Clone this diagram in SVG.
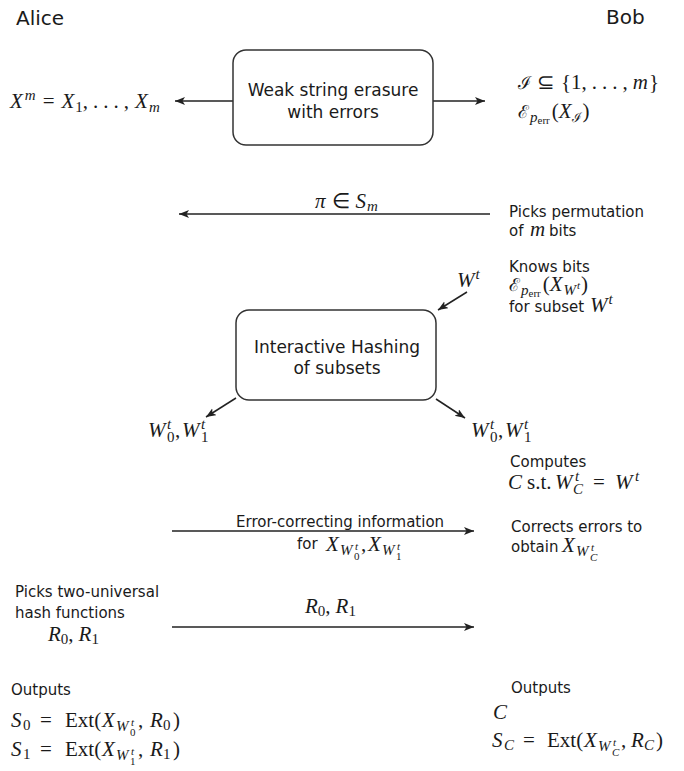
<svg xmlns="http://www.w3.org/2000/svg" width="684" height="771" viewBox="0 0 684 771">
<style>
.t{font-family:"DejaVu Sans",sans-serif;font-size:15px;fill:#1a1a1a}
.big{font-family:"DejaVu Sans",sans-serif;font-size:20px;fill:#1a1a1a}
.bt{font-family:"DejaVu Sans",sans-serif;font-size:17px;fill:#1a1a1a;text-anchor:middle}
.m{font-family:"Liberation Serif",serif;font-size:21px;fill:#1a1a1a}
.i{font-style:italic}
.s{font-size:15px}
.ss{font-size:11px}
.sc{font-family:"DejaVu Serif","Liberation Serif",serif;font-style:normal;font-size:18px}
.scs{font-family:"DejaVu Serif","Liberation Serif",serif;font-style:normal;font-size:13px}
.box{fill:#fff;stroke:#333;stroke-width:1.5}
.ln{stroke:#222;stroke-width:1.5;fill:none;marker-end:url(#ah)}
</style>
<defs>
<marker id="ah" markerUnits="userSpaceOnUse" markerWidth="11" markerHeight="9" refX="10" refY="4" orient="auto">
<path d="M0,0 L10,4 L0,8 L2.5,4 z" fill="#222"/>
</marker>
</defs>
<rect width="684" height="771" fill="#fff"/>

<text class="big" x="16" y="25">Alice</text>
<text class="big" x="606" y="24">Bob</text>

<g id="connectors">
<line class="ln" x1="233" y1="101" x2="175" y2="101"/>
<line class="ln" x1="433" y1="101" x2="485" y2="101"/>
<line class="ln" x1="490" y1="214" x2="179" y2="214"/>
<line class="ln" x1="467" y1="292" x2="438" y2="310"/>
<line class="ln" x1="236" y1="398" x2="206" y2="417"/>
<line class="ln" x1="436" y1="399" x2="465" y2="418"/>
<line class="ln" x1="172" y1="531" x2="474" y2="531"/>
<line class="ln" x1="172" y1="627" x2="474" y2="627"/>
</g>

<g id="wse">
<rect class="box" x="233" y="50" width="200" height="95" rx="13"/>
<text class="bt" x="333" y="96">Weak string erasure</text>
<text class="bt" x="333" y="118">with errors</text>
</g>

<g id="ih">
<rect class="box" x="236" y="310" width="200" height="90" rx="13"/>
<text class="bt" x="337" y="353">Interactive Hashing</text>
<text class="bt" x="337" y="374">of subsets</text>
</g>

<g id="alice-xm">
<text class="m" x="10" y="108"><tspan class="i">X</tspan><tspan class="s i" dx="2" dy="-8">m</tspan><tspan dx="7" dy="8">=</tspan><tspan class="i" dx="7">X</tspan><tspan class="s" dx="1" dy="4">1</tspan><tspan dy="-4">,</tspan><tspan dx="5">.</tspan><tspan dx="5">.</tspan><tspan dx="5">.</tspan><tspan dx="5">,</tspan><tspan class="i" dx="6">X</tspan><tspan class="s i" dx="1" dy="4">m</tspan></text>
</g>

<g id="bob-i">
<text class="m" x="518" y="89"><tspan class="sc">ℐ</tspan><tspan dx="6">⊆</tspan><tspan dx="6">{</tspan><tspan>1</tspan><tspan>,</tspan><tspan dx="5">.</tspan><tspan dx="5">.</tspan><tspan dx="5">.</tspan><tspan dx="5">,</tspan><tspan class="i" dx="5">m</tspan><tspan dx="1">}</tspan></text>
<text class="m" x="518" y="118"><tspan class="sc">ℰ</tspan><tspan class="s i" dx="1" dy="4">p</tspan><tspan class="ss" dy="2">err</tspan><tspan dx="2" dy="-6">(</tspan><tspan class="i">X</tspan><tspan class="scs" dy="4">ℐ</tspan><tspan dx="1" dy="-4">)</tspan></text>
</g>

<g id="perm">
<text class="m" x="315" y="208"><tspan class="i">π</tspan><tspan dx="6">∈</tspan><tspan class="i" dx="6">S</tspan><tspan class="s i" dx="1" dy="3">m</tspan></text>
<text class="t" x="509" y="217">Picks permutation</text>
<text class="t" x="509" y="236">of</text>
<text class="m i" x="530" y="236">m</text>
<text class="t" x="549" y="236">bits</text>
</g>

<g id="knows">
<text class="t" x="509" y="272">Knows bits</text>
<text class="m" x="509" y="291"><tspan class="sc">ℰ</tspan><tspan class="s i" dx="1" dy="4">p</tspan><tspan class="ss" dy="2">err</tspan><tspan dx="2" dy="-6">(</tspan><tspan class="i">X</tspan><tspan class="s i" dx="1" dy="4">W</tspan><tspan class="ss i" dx="1" dy="-6">t</tspan><tspan dx="1" dy="2">)</tspan></text>
<text class="t" x="509" y="312">for subset</text>
<text class="m" x="590" y="312"><tspan class="i">W</tspan><tspan class="s i" dx="1" dy="-8">t</tspan></text>
<text class="m" x="457" y="287"><tspan class="i">W</tspan><tspan class="s i" dx="1" dy="-8">t</tspan></text>
</g>

<g id="w01-left">
<text class="m"><tspan class="i" x="148" y="437">W</tspan><tspan class="s i" x="167" y="429">t</tspan><tspan class="s" x="167" y="442">0</tspan><tspan x="175" y="437">,</tspan><tspan class="i" x="182" y="437">W</tspan><tspan class="s i" x="201" y="429">t</tspan><tspan class="s" x="201" y="442">1</tspan></text>
</g>
<g id="w01-right">
<text class="m"><tspan class="i" x="471" y="437">W</tspan><tspan class="s i" x="490" y="429">t</tspan><tspan class="s" x="490" y="442">0</tspan><tspan x="498" y="437">,</tspan><tspan class="i" x="505" y="437">W</tspan><tspan class="s i" x="524" y="429">t</tspan><tspan class="s" x="524" y="442">1</tspan></text>
<text class="t" x="510" y="467">Computes</text>
<text class="m"><tspan class="i" x="508" y="489">C</tspan><tspan x="527" y="489">s.t.</tspan><tspan class="i" x="555" y="489">W</tspan><tspan class="s i" x="575" y="481">t</tspan><tspan class="s i" x="573" y="494">C</tspan><tspan x="593" y="489">=</tspan><tspan class="i" x="615" y="489">W</tspan><tspan class="s i" x="635" y="481">t</tspan></text>
</g>

<g id="ecc">
<text class="t" x="236" y="527">Error-correcting information</text>
<text class="t" x="297" y="549">for</text>
<text class="m"><tspan class="i" x="326" y="551">X</tspan><tspan class="s i" x="340" y="555">W</tspan><tspan class="ss i" x="355" y="550">t</tspan><tspan class="ss" x="354" y="560">0</tspan><tspan x="361" y="551">,</tspan><tspan class="i" x="368" y="551">X</tspan><tspan class="s i" x="382" y="555">W</tspan><tspan class="ss i" x="397" y="550">t</tspan><tspan class="ss" x="396" y="560">1</tspan></text>
<text class="t" x="511" y="532">Corrects errors to</text>
<text class="t" x="511" y="552">obtain</text>
<text class="m"><tspan class="i" x="562" y="552">X</tspan><tspan class="s i" x="576" y="556">W</tspan><tspan class="ss i" x="591" y="551">t</tspan><tspan class="ss i" x="590" y="561">C</tspan></text>
</g>

<g id="hash">
<text class="t" x="15" y="597">Picks two-universal</text>
<text class="t" x="15" y="618">hash functions</text>
<text class="m" x="48" y="641"><tspan class="i">R</tspan><tspan class="s" dy="3">0</tspan><tspan dy="-3">,</tspan><tspan class="i" dx="5">R</tspan><tspan class="s" dy="3">1</tspan></text>
<text class="m" x="305" y="613"><tspan class="i">R</tspan><tspan class="s" dy="3">0</tspan><tspan dy="-3">,</tspan><tspan class="i" dx="5">R</tspan><tspan class="s" dy="3">1</tspan></text>
</g>

<g id="out-alice">
<text class="t" x="11" y="695">Outputs</text>
<text class="m"><tspan class="i" x="11" y="727">S</tspan><tspan class="s" x="23" y="730">0</tspan><tspan x="40" y="727">=</tspan><tspan x="65" y="727">Ext(</tspan><tspan class="i" x="102" y="727">X</tspan><tspan class="s i" x="116" y="731">W</tspan><tspan class="ss i" x="131" y="726">t</tspan><tspan class="ss" x="130" y="736">0</tspan><tspan x="138" y="727">,</tspan><tspan class="i" x="150" y="727">R</tspan><tspan class="s" x="163" y="730">0</tspan><tspan x="173" y="727">)</tspan></text>
<text class="m"><tspan class="i" x="11" y="756">S</tspan><tspan class="s" x="23" y="759">1</tspan><tspan x="40" y="756">=</tspan><tspan x="65" y="756">Ext(</tspan><tspan class="i" x="102" y="756">X</tspan><tspan class="s i" x="116" y="760">W</tspan><tspan class="ss i" x="131" y="755">t</tspan><tspan class="ss" x="130" y="765">1</tspan><tspan x="138" y="756">,</tspan><tspan class="i" x="150" y="756">R</tspan><tspan class="s" x="163" y="759">1</tspan><tspan x="173" y="756">)</tspan></text>
</g>

<g id="out-bob">
<text class="t" x="511" y="693">Outputs</text>
<text class="m i" x="493" y="719">C</text>
<text class="m"><tspan class="i" x="492" y="747">S</tspan><tspan class="s i" x="504" y="750">C</tspan><tspan x="523" y="747">=</tspan><tspan x="547" y="747">Ext(</tspan><tspan class="i" x="584" y="747">X</tspan><tspan class="s i" x="598" y="751">W</tspan><tspan class="ss i" x="613" y="746">t</tspan><tspan class="ss i" x="612" y="756">C</tspan><tspan x="621" y="747">,</tspan><tspan class="i" x="631" y="747">R</tspan><tspan class="s i" x="644" y="750">C</tspan><tspan x="656" y="747">)</tspan></text>
</g>
</svg>
